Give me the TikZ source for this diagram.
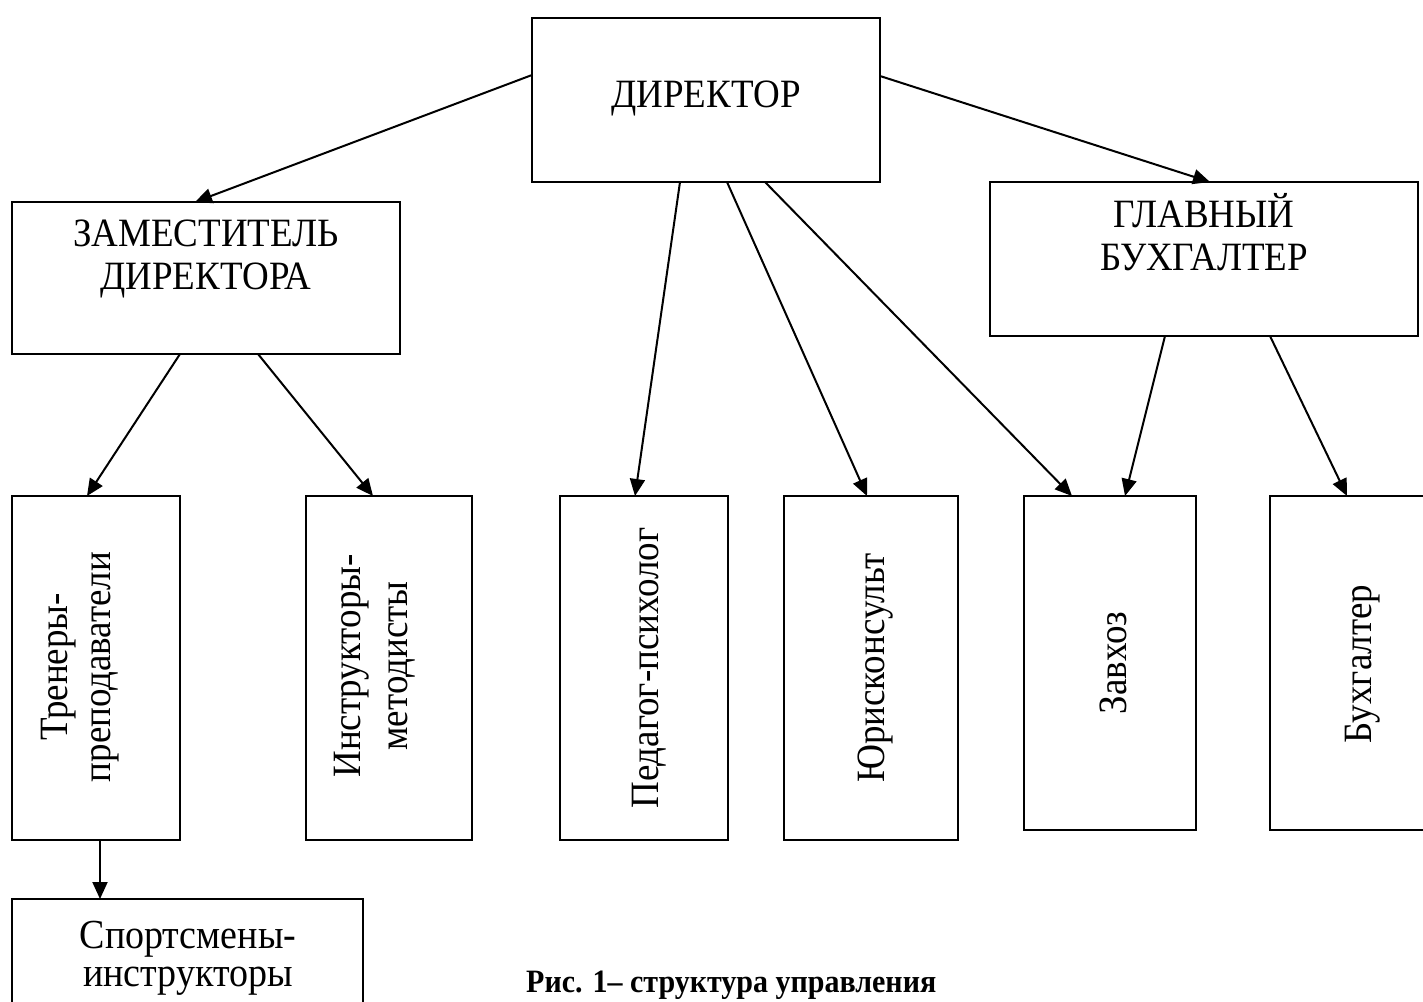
\documentclass[tikz,border=0pt]{standalone}
\usepackage{fontspec}
\setmainfont{Liberation Serif}[FakeStretch=0.92]
\usetikzlibrary{arrows.meta,calc}
\begin{document}
\begin{tikzpicture}[x=1pt,y=-1pt,
  box/.style={draw, line width=2pt, inner sep=0pt, outer sep=0pt, anchor=north west},
  lbl/.style={font=\fontsize{40.2}{43}\selectfont, inner sep=0pt, align=center},
  vlbl/.style={lbl, rotate=90},
  arr/.style={line width=2pt, -{Triangle[length=17pt,width=15pt]}}]
\clip (0,0) rectangle (1423,1001);
\fill[white] (0,0) rectangle (1423,1001);
% boxes
\node[box, minimum width=348pt, minimum height=164pt] (dir) at (532,18) {};
\node[box, minimum width=388pt, minimum height=152pt] (dep) at (12,202) {};
\node[box, minimum width=428pt, minimum height=154pt] (chief) at (990,182) {};
\node[box, minimum width=168pt, minimum height=344pt] (tren) at (12,496) {};
\node[box, minimum width=166pt, minimum height=344pt] (instr) at (306,496) {};
\node[box, minimum width=168pt, minimum height=344pt] (ped) at (560,496) {};
\node[box, minimum width=174pt, minimum height=344pt] (jur) at (784,496) {};
\node[box, minimum width=172pt, minimum height=334pt] (zav) at (1024,496) {};
\node[box, minimum width=180pt, minimum height=334pt] (buh) at (1270,496) {};
\node[box, minimum width=351pt, minimum height=140pt] (sport) at (12,899) {};
% texts
\node[lbl, anchor=base] (tdir) at (706,107) {ДИРЕКТОР};
\node[lbl] (tdep) at (206,259) {ЗАМЕСТИТЕЛЬ\\ДИРЕКТОРА};
\node[lbl] (tchief) at (1204,232) {ГЛАВНЫЙ\\БУХГАЛТЕР};
\node[vlbl] (ttren) at (80,667) {Тренеры-\\преподаватели};
\node[vlbl, font=\fontsize{40.2}{47}\selectfont] (tinstr) at (375,666) {Инструкторы-\\методисты};
\node[vlbl, anchor=base] (tped) at (658,668) {Педагог-психолог};
\node[vlbl, anchor=base] (tjur) at (884,668) {Юрисконсульт};
\node[vlbl, anchor=base] (tzav) at (1126,663) {Завхоз};
\node[vlbl, anchor=base] (tbuh) at (1371,664) {Бухгалтер};
\node[lbl, font=\fontsize{41.3}{38}\selectfont] (tsport) at (188,958) {Спортсмены-\\инструкторы};
\node[anchor=base west, inner sep=0pt, font=\fontsize{32.6}{34}\selectfont\bfseries] (cap) at (526,992) {Рис. 1– структура управления};
% connectors
\draw[arr] ([yshift=-57pt]dir.north west) -- ([xshift=183pt]dep.north west);
\draw[arr] ([yshift=-58pt]dir.north east) -- ([xshift=220pt]chief.north west);
\draw[arr] ([xshift=148pt]dir.south west) -- ([xshift=75pt]ped.north west);
\draw[arr] ([xshift=195pt]dir.south west) -- ([xshift=83pt]jur.north west);
\draw[arr] ([xshift=233pt]dir.south west) -- ([xshift=48pt]zav.north west);
\draw[arr] ([xshift=175pt]chief.south west) -- ([xshift=101pt]zav.north west);
\draw[arr] ([xshift=280pt]chief.south west) -- ([xshift=77pt]buh.north west);
\draw[arr] ([xshift=168pt]dep.south west) -- ([xshift=75pt]tren.north west);
\draw[arr] ([xshift=246pt]dep.south west) -- ([xshift=67pt]instr.north west);
\draw[arr] ([xshift=88pt]tren.south west) -- ([xshift=88pt]sport.north west);
\end{tikzpicture}
\end{document}
